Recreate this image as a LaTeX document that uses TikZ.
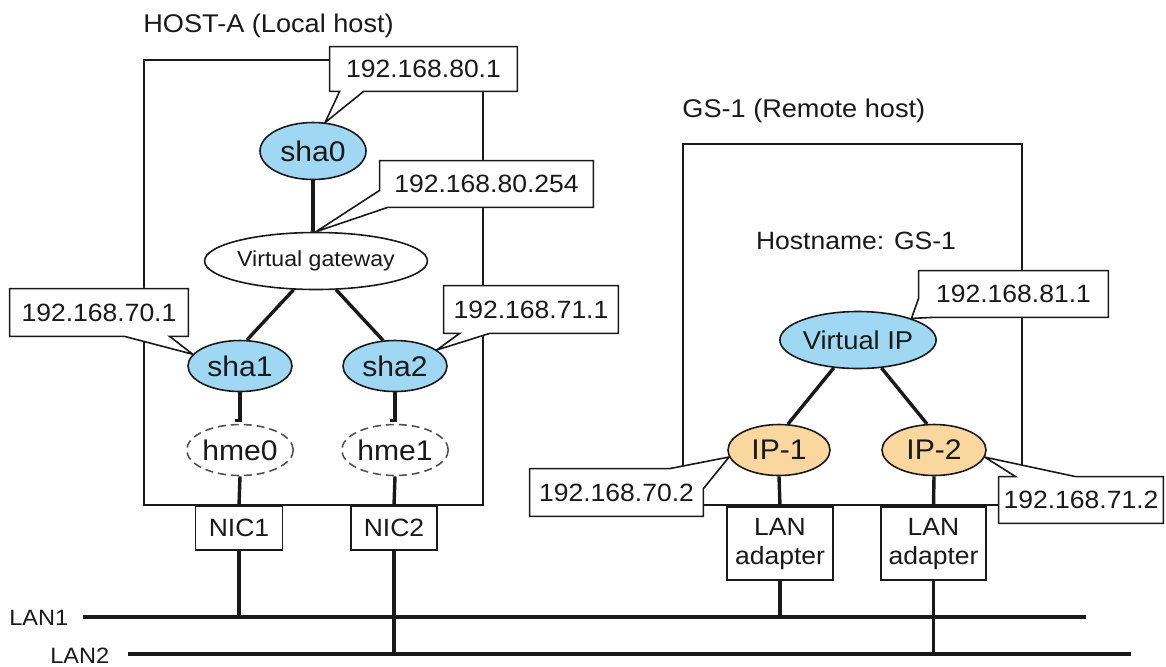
\documentclass[tikz,border=0pt]{standalone}
\usepackage{fontspec}
\setmainfont[FakeStretch=1.06]{Liberation Sans}
\usetikzlibrary{shapes.geometric,calc}
\pgfdeclarelayer{bg}\pgfdeclarelayer{mid}
\pgfsetlayers{bg,mid,main}
\definecolor{shablue}{RGB}{160,215,242}
\definecolor{iporange}{RGB}{251,215,160}
\definecolor{ink}{RGB}{25,25,25}
\tikzset{
  every node/.style={text=ink},
  hwbox/.style={draw=ink, line width=0.8pt, fill=white, inner sep=0pt, align=center,
    font=\fontsize{12.5pt}{14.5pt}\selectfont},
  ctext/.style={inner sep=0pt, font=\fontsize{12.5pt}{15pt}\selectfont},
  cshape/.style={draw=ink, line width=0.8pt, fill=white, line join=miter},
  iface/.style={ellipse, draw=ink, line width=0.8pt, inner sep=0pt,
    font=\fontsize{14.2pt}{17pt}\selectfont},
  blueif/.style={iface, fill=shablue},
  orangeif/.style={iface, fill=iporange},
  dashif/.style={iface, draw=ink!75, dash pattern=on 4pt off 2.5pt},
  conn/.style={line width=1.7pt, draw=ink},
  lanline/.style={line width=1.8pt, draw=ink},
  frame/.style={line width=0.8pt, draw=ink},
  ttl/.style={inner sep=0pt, font=\fontsize{12.8pt}{15pt}\selectfont},
  lanlbl/.style={inner sep=0pt, font=\fontsize{11.1pt}{13pt}\selectfont},
}
\begin{document}
\begin{tikzpicture}[x=0.5pt, y=-0.5pt]
\useasboundingbox (0,0) rectangle (1166,666);

% titles
\node[ttl, anchor=base west] (tA) at (143,32) {HOST-A (Local host)};
\node[ttl, anchor=base west] (tG) at (682,117) {GS-1 (Remote host)};
\node[ctext] (hn) at (856,241) {Hostname: GS-1};

% host A interfaces
\node[blueif, minimum width=53pt, minimum height=28.5pt] (sha0) at (313,151) {sha0};
\node[iface, fill=white, minimum width=107pt, minimum height=28.5pt,
      font=\fontsize{10.9pt}{13pt}\selectfont] (gw) at (316,261) {Virtual gateway};
\node[blueif, minimum width=52pt, minimum height=25.5pt] (sha1) at (240,366) {sha1};
\node[blueif, minimum width=52pt, minimum height=25.5pt] (sha2) at (395,366) {sha2};
\node[dashif, minimum width=52pt, minimum height=25.5pt] (hme0) at (240,450) {hme0};
\node[dashif, minimum width=52pt, minimum height=25.5pt] (hme1) at (395,450) {hme1};
\node[hwbox, minimum width=43.5pt, minimum height=22pt] (nic1) at (239,528) {NIC1};
\node[hwbox, minimum width=43pt, minimum height=22pt] (nic2) at (394,528) {NIC2};

% GS-1 interfaces
\node[blueif, minimum width=68pt, minimum height=28.5pt,
      font=\fontsize{12.9pt}{15pt}\selectfont] (vip) at (858,340) {Virtual IP};
\node[orangeif, minimum width=51pt, minimum height=25.5pt] (ip1) at (779,450) {IP-1};
\node[orangeif, minimum width=52pt, minimum height=25.5pt] (ip2) at (934,450) {IP-2};
\node[hwbox, minimum width=53pt, minimum height=36.5pt] (ad1) at (780,543.5) {LAN\\adapter};
\node[hwbox, minimum width=52.5pt, minimum height=36.5pt] (ad2) at (933.5,543.5) {LAN\\adapter};

% LAN labels and ends
\node[lanlbl, anchor=west] (l1) at (9,618) {LAN1};
\node[lanlbl, anchor=west] (l2) at (50,656) {LAN2};
\coordinate (lan1s) at (83,617);
\coordinate (lan1e) at (1086,617);
\coordinate (lan2s) at (128,654);
\coordinate (lan2e) at (1131,654);

% callout texts
\node[ctext, minimum width=93.5pt, minimum height=22pt] (c801) at (423.5,69) {192.168.80.1};
\node[ctext, minimum width=106.5pt, minimum height=23pt] (c80254) at (486.5,184) {192.168.80.254};
\node[ctext, minimum width=89pt, minimum height=23.5pt] (c701) at (99,312.5) {192.168.70.1};
\node[ctext, minimum width=87pt, minimum height=23.5pt] (c711) at (531,309.5) {192.168.71.1};
\node[ctext, minimum width=94.5pt, minimum height=23pt] (c811) at (1013.5,294) {192.168.81.1};
\node[ctext, minimum width=86.5pt, minimum height=23.5pt] (c702) at (616.5,492.5) {192.168.70.2};
\node[ctext, minimum width=82pt, minimum height=23pt] (c712) at (1081,500) {192.168.71.2};

\begin{pgfonlayer}{bg}
  \draw[frame] (144,60) rectangle (483,505);
  \draw[frame] (683,144) rectangle (1022,505);
  \draw[lanline] (lan1s) -- (lan1e);
  \draw[lanline] (lan2s) -- (lan2e);
  \draw[conn] (sha0.south) -- (sha0.south |- gw.north);
  \draw[conn] (gw.232) -- (sha1.75);
  \draw[conn] (gw.305) -- (sha2.115);
  \draw[conn] (sha1.south) |- ($(hme0.north)+(-5,-3)$);
  \draw[conn] (sha2.south) |- ($(hme1.north)+(-5,-3)$);
  \draw[conn] (hme0.south) -- (nic1.north);
  \draw[conn] (hme1.south) -- (nic2.north);
  \draw[conn] (nic1.south) -- (nic1.south |- lan1s);
  \draw[conn] (nic2.south) -- (nic2.south |- lan2s);
  \draw[conn] (vip.229) -- (ip1.71);
  \draw[conn] (vip.310) -- (ip2.105);
  \draw[conn] (ip1.south) -- (ad1.north);
  \draw[conn] (ip2.south) -- (ad2.north);
  \draw[conn] (ad1.south) -- (ad1.south |- lan1s);
  \draw[conn] (ad2.south) -- (ad2.south |- lan2s);
\end{pgfonlayer}

\begin{pgfonlayer}{mid}
  \draw[cshape] (c801.north west) -- (c801.north east) -- (c801.south east)
    -- ($(c801.south west)+(34,0)$) -- (sha0.67) -- ($(c801.south west)+(10,0)$)
    -- (c801.south west) -- cycle;
  \draw[cshape] (c80254.north west) -- (c80254.north east) -- (c80254.south east)
    -- ($(c80254.south west)+(8,0)$) -- (gw.north) -- ($(c80254.south west)+(0,-17)$) -- cycle;
  \draw[cshape] (c701.north west) -- (c701.north east) -- (c701.south east)
    -- ($(c701.south west)+(160,0)$) -- (sha1.166) -- ($(c701.south west)+(115,0)$)
    -- (c701.south west) -- cycle;
  \draw[cshape] (c711.north west) -- (c711.north east) -- (c711.south east)
    -- ($(c711.south west)+(46,0)$) -- (sha2.21) -- ($(c711.south west)+(16,0)$)
    -- (c711.south west) -- cycle;
  \draw[cshape] (c811.north west) -- (c811.north east) -- (c811.south east)
    -- ($(c811.south west)+(14,0)$) -- (vip.22) -- ($(c811.south west)+(0,-19)$) -- cycle;
  \draw[cshape] (c702.north west) -- ($(c702.north west)+(140,0)$) -- (ip1.188)
    -- ($(c702.north east)+(0,20)$) -- (c702.south east) -- (c702.south west) -- cycle;
  \draw[cshape] (c712.north west) -- ($(c712.north west)+(17,0)$) -- (ip2.352)
    -- ($(c712.north west)+(77,0)$) -- (c712.north east) -- (c712.south east)
    -- (c712.south west) -- cycle;
\end{pgfonlayer}
\end{tikzpicture}
\end{document}
